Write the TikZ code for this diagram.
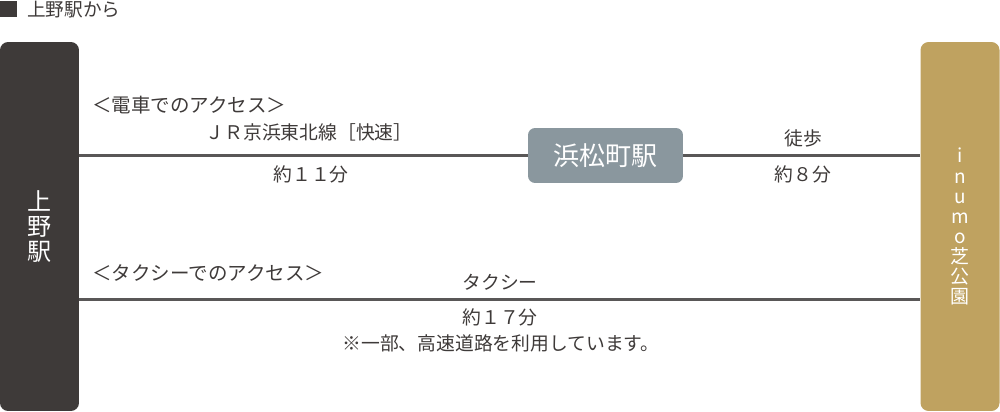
\documentclass[tikz,border=0pt]{standalone}
\usepackage{fontspec}
\setmainfont{Noto Sans CJK JP}
\definecolor{inkgray}{HTML}{3E3A39}
\definecolor{linegray}{HTML}{595757}
\definecolor{stationblue}{HTML}{8A979E}
\definecolor{inumogold}{HTML}{BFA260}
\tikzset{
  endbar/.style={rounded corners=0.16cm,minimum width=1.58cm,minimum height=7.38cm,inner sep=0pt,text=white,align=center},
  stationbox/.style={fill=stationblue,rounded corners=0.14cm,minimum width=3.1cm,minimum height=1.1cm,inner sep=0pt,text=white,font=\fontsize{14.8}{16}\selectfont},
  route/.style={draw=linegray,line width=1.15pt},
  lbl/.style={text=inkgray,inner sep=0pt,font=\fontsize{10.7}{12}\selectfont},
  heading/.style={lbl,anchor=west,font=\fontsize{11.1}{13}\selectfont}
}
\begin{document}
\begin{tikzpicture}[x=0.02cm,y=-0.02cm]
    \useasboundingbox (0,0) rectangle (1000,412);
    % title
    \fill[inkgray] (0,1) rectangle (17,17);
    \node[heading,font=\fontsize{10.6}{12}\selectfont] (title) at (27,9.5) {上野駅から};
    % both ends and the station between
    \node[endbar,fill=inkgray,font=\fontsize{13.7}{14.3}\selectfont] (ueno) at (39.5,226.5) {上\\野\\駅};
    \node[endbar,fill=inumogold,font=\fontsize{10.8}{11.4}\selectfont] (inumo) at (960,226.5) {i\\n\\u\\m\\o\\芝\\公\\園};
    \node[stationbox] (hama) at (605.5,155.5) {浜松町駅};
    \coordinate (taxiY) at (500,299.5);
    \draw[route] (hama.west -| ueno.east) -- (hama.west);
    \draw[route] (hama.east) -- (hama.east -| inumo.west);
    \draw[route] (taxiY -| ueno.east) -- (taxiY -| inumo.west);
    % train
    \node[heading] (trainHead) at (92,105.5) {＜電車でのアクセス＞};
    \node[lbl] (jrLine) at (309,132) {ＪＲ京浜東北線［快速］};
    \node[lbl] (jrTime) at (311,174) {約１１分};
    \node[lbl] (walk) at (803,138.5) {徒歩};
    \node[lbl] (walkTime) at (803,174.5) {約８分};
    % taxi
    \node[heading] (taxiHead) at (92,272.5) {＜タクシーでのアクセス＞};
    \node[lbl] (taxi) at (500,282.5) {タクシー};
    \node[lbl] (taxiTime) at (500,317.5) {約１７分};
    \node[lbl] (taxiNote) at (501,343) {※一部、高速道路を利用しています。};
\end{tikzpicture}
\end{document}
